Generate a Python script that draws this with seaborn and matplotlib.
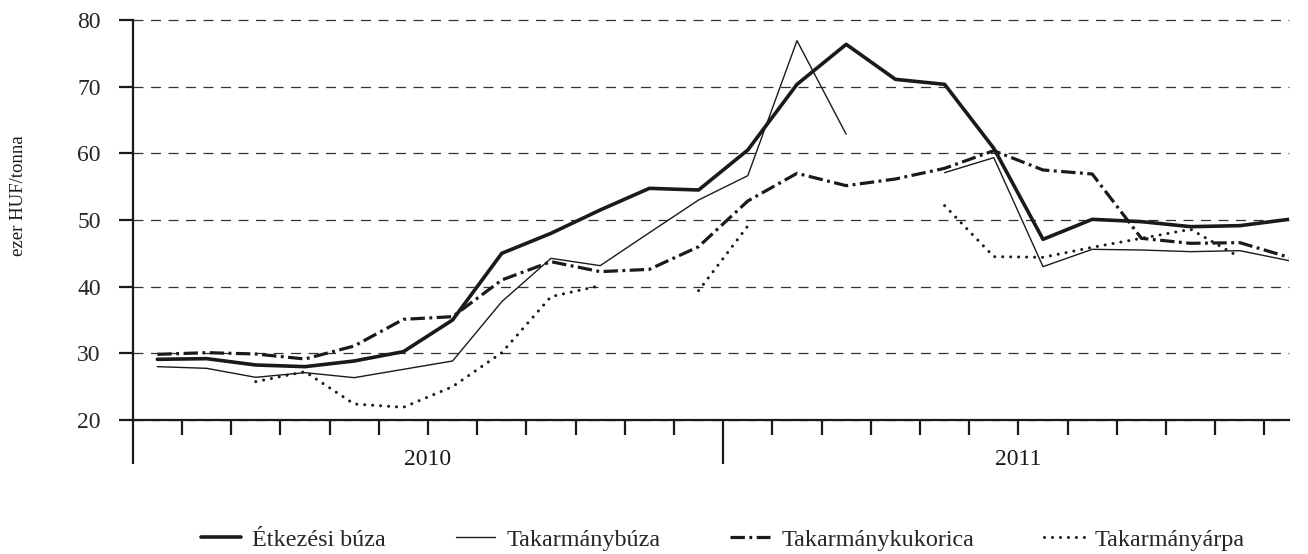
import numpy as np
import pandas as pd
import matplotlib.pyplot as plt
import seaborn as sns
from matplotlib.lines import Line2D
from matplotlib.ticker import MultipleLocator, FixedLocator

# Monthly prices, Jan 2010 - Dec 2011 (ezer HUF/tonna), NaN = no data
months = pd.period_range('2010-01', '2011-12', freq='M').astype(str)
years = ['2010', '2011']

etkezesi = [29.1, 29.2, 28.25, 28.0, 28.85, 30.25, 35.0, 45.0, 48.0, 51.5, 54.75, 54.5,
            60.5, 70.35, 76.35, 71.1, 70.35, 60.75, 47.1, 50.1, 49.75, 49.0, 49.15, 50.1]
takarmanybuza = [28.0, 27.75, 26.4, 27.1, 26.35, 27.6, 28.85, 37.75, 44.25, 43.15, 48.1, 53.0,
                 56.65, 76.9, 62.85, np.nan, 57.1, 59.35, 43.0, 45.6, 45.5, 45.25, 45.4, 43.9]
kukorica = [29.85, 30.1, 29.9, 29.15, 31.1, 35.1, 35.5, 41.0, 43.75, 42.25, 42.6, 46.0,
            52.85, 57.0, 55.15, 56.15, 57.75, 60.4, 57.5, 56.9, 47.25, 46.5, 46.6, 44.4]
arpa = [np.nan, np.nan, 25.75, 27.25, 22.4, 21.9, 25.0, 30.1, 38.5, 40.15, np.nan, 39.4,
        49.1, np.nan, np.nan, np.nan, 52.15, 44.5, 44.4, 45.9, 47.25, 48.6, 44.4, np.nan]

series = {
    'Étkezési búza': etkezesi,
    'Takarmánybúza': takarmanybuza,
    'Takarmánykukorica': kukorica,
    'Takarmányárpa': arpa,
}

styles = {
    'Étkezési búza': dict(lw=2.6, linestyle='-'),
    'Takarmánybúza': dict(lw=1.0, linestyle='-'),
    'Takarmánykukorica': dict(lw=2.3, linestyle=(0, (4.5, 1.4, 0.9, 1.4)), dash_capstyle='butt'),
    'Takarmányárpa': dict(lw=2.2, linestyle=(0, (0.01, 2.6)), dash_capstyle='round'),
}

# long table, with a segment id so gaps break the line
rows = []
for name, vals in series.items():
    seg = 0
    for i, v in enumerate(vals):
        if np.isnan(v):
            seg += 1
            continue
        rows.append({'series': name, 'x': i + 0.5, 'value': v, 'seg': seg})
df = pd.DataFrame(rows)

sns.set_theme(style='white')
plt.rcParams['font.family'] = ['Liberation Serif', 'DejaVu Serif']

fig = plt.figure(figsize=(13.08, 5.54), dpi=100)
ax = fig.add_axes([0.1015, 0.2419, 0.884, 0.722])

for name in series:
    sub = df[df['series'] == name]
    sns.lineplot(data=sub, x='x', y='value', units='seg', estimator=None,
                 color='#1a1a1a', ax=ax, legend=False, **styles[name])

ax.set_xlim(0, len(months) - 0.5)
ax.set_ylim(20, 80)

# axes look
for s in ['top', 'right']:
    ax.spines[s].set_visible(False)
for s in ['left', 'bottom']:
    ax.spines[s].set_color('#1a1a1a')
    ax.spines[s].set_linewidth(1.6)

ax.yaxis.set_major_locator(MultipleLocator(10))
ax.tick_params(axis='y', direction='out', length=10, width=1.6, color='#1a1a1a',
               labelsize=17, pad=13, left=True)
ax.xaxis.set_major_locator(FixedLocator([0, 12]))
ax.xaxis.set_minor_locator(FixedLocator([m for m in range(1, 24) if m != 12]))
ax.tick_params(axis='x', which='major', direction='out', length=32, width=1.6,
               color='#1a1a1a', labelbottom=False, bottom=True)
ax.tick_params(axis='x', which='minor', direction='out', length=11, width=1.6,
               color='#1a1a1a', bottom=True)

ax.grid(False)
ax.yaxis.grid(True, color='#333333', lw=0.9, linestyle=(0, (8, 6)))
for gl in ax.get_ygridlines():
    gl.set_clip_on(False)

for k, yr in enumerate(years):
    ax.text(6 + 12 * k, -0.1, yr, transform=ax.get_xaxis_transform(),
            ha='center', va='center', fontsize=17, color='#1a1a1a')

ax.set_xlabel('')
ax.set_ylabel('ezer HUF/tonna', fontsize=13.5, color='#1a1a1a')
ax.yaxis.set_label_coords(-0.0914, 0.56)

handles = [Line2D([], [], color='#1a1a1a', **styles[name]) for name in series]
fig.legend(handles, list(series), loc='center', bbox_to_anchor=(723 / 1308, 1 - 540 / 554),
           ncol=4, frameon=False, fontsize=17.4, handlelength=1.65, handletextpad=0.45,
           columnspacing=2.9)

plt.savefig('out.png', dpi=100)
